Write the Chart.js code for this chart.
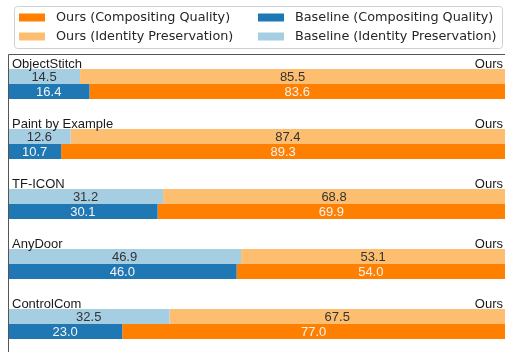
<!DOCTYPE html>
<html>
<head>
<meta charset="utf-8">
<script src="https://cdn.jsdelivr.net/npm/chart.js@4.4.1/dist/chart.umd.min.js"></script>
<style>
  html, body { margin: 0; padding: 0; background: #fff; overflow: hidden; }
  canvas { display: block; }
</style>
</head>
<body>
<canvas id="chart" width="505" height="354"></canvas>
<script>
// Methods compared in the user study
const methods = ['ObjectStitch', 'Paint by Example', 'TF-ICON', 'AnyDoor', 'ControlCom'];

// Preference shares (%) for identity preservation
const baselineIdentity = [14.5, 12.6, 31.2, 46.9, 32.5];
const oursIdentity = [85.5, 87.4, 68.8, 53.1, 67.5];

// Preference shares (%) for compositing quality
const baselineComposite = [16.4, 10.7, 30.1, 46.0, 23.0];
const oursComposite = [83.6, 89.3, 69.9, 54.0, 77.0];

const oursLabel = 'Ours';

const COLORS = {
  oursComp: '#ff7f00',
  oursId: '#fdbf6f',
  baseComp: '#1f78b4',
  baseId: '#a6cee3'
};

const LABEL_FONT = '13px "Liberation Sans", Arial, sans-serif';
const LEGEND_FONT = '12.8px "DejaVu Sans", sans-serif';

// Legend laid out in two columns (Ours | Baseline)
const legendItems = [
  { text: 'Ours (Compositing Quality)', color: COLORS.oursComp, col: 0, row: 0 },
  { text: 'Ours (Identity Preservation)', color: COLORS.oursId, col: 0, row: 1 },
  { text: 'Baseline (Compositing Quality)', color: COLORS.baseComp, col: 1, row: 0 },
  { text: 'Baseline (Identity Preservation)', color: COLORS.baseId, col: 1, row: 1 }
];

function roundRect(ctx, x, y, w, h, r) {
  ctx.beginPath();
  ctx.moveTo(x + r, y);
  ctx.lineTo(x + w - r, y);
  ctx.quadraticCurveTo(x + w, y, x + w, y + r);
  ctx.lineTo(x + w, y + h - r);
  ctx.quadraticCurveTo(x + w, y + h, x + w - r, y + h);
  ctx.lineTo(x + r, y + h);
  ctx.quadraticCurveTo(x, y + h, x, y + h - r);
  ctx.lineTo(x, y + r);
  ctx.quadraticCurveTo(x, y, x + r, y);
  ctx.closePath();
}

const annotate = {
  id: 'annotate',
  afterDatasetsDraw(chart) {
    const ctx = chart.ctx;
    const area = chart.chartArea;
    ctx.save();

    // value labels centred in each segment
    ctx.font = LABEL_FONT;
    ctx.textAlign = 'center';
    ctx.textBaseline = 'middle';
    chart.data.datasets.forEach((ds, di) => {
      const meta = chart.getDatasetMeta(di);
      meta.data.forEach((bar, i) => {
        const cx = (bar.x + bar.base) / 2;
        ctx.fillStyle = ds.labelColor;
        ctx.fillText(ds.data[i].toFixed(1), cx, bar.y + 0.5);
      });
    });

    // method name (left) and "Ours" (right) above each pair of bars
    const topMeta = chart.getDatasetMeta(0);
    topMeta.data.forEach((bar, i) => {
      const top = bar.y - bar.height / 2;
      ctx.fillStyle = '#1a1a1a';
      ctx.textBaseline = 'alphabetic';
      ctx.textAlign = 'left';
      ctx.fillText(methods[i], area.left + 4, top - 1);
      ctx.textAlign = 'right';
      ctx.fillText(oursLabel, 503, top - 1);
    });

    // axes frame (top and left)
    ctx.strokeStyle = '#555';
    ctx.lineWidth = 1;
    ctx.beginPath();
    ctx.moveTo(area.left + 0.5, chart.height);
    ctx.lineTo(area.left + 0.5, area.top + 0.5);
    ctx.lineTo(chart.width, area.top + 0.5);
    ctx.stroke();

    // legend
    ctx.fillStyle = '#fff';
    roundRect(ctx, 14.5, 6.5, 488, 42, 3);
    ctx.fill();
    ctx.strokeStyle = '#d0d0d0';
    ctx.stroke();
    ctx.font = LEGEND_FONT;
    ctx.textAlign = 'left';
    ctx.textBaseline = 'middle';
    const colX = [19, 258];
    const rowY = [17.5, 36.5];
    legendItems.forEach(item => {
      const x = colX[item.col];
      const y = rowY[item.row];
      ctx.fillStyle = item.color;
      ctx.fillRect(x, y - 4, 26, 8);
      ctx.fillStyle = '#262626';
      ctx.fillText(item.text, x + 37, y + 0.5);
    });

    ctx.restore();
  }
};

new Chart(document.getElementById('chart'), {
  type: 'bar',
  data: {
    labels: methods,
    datasets: [
      { label: 'Baseline (Identity Preservation)', data: baselineIdentity, backgroundColor: COLORS.baseId, stack: 'identity', labelColor: '#333' },
      { label: 'Ours (Identity Preservation)', data: oursIdentity, backgroundColor: COLORS.oursId, stack: 'identity', labelColor: '#333' },
      { label: 'Baseline (Compositing Quality)', data: baselineComposite, backgroundColor: COLORS.baseComp, stack: 'composite', labelColor: '#f4f4f4' },
      { label: 'Ours (Compositing Quality)', data: oursComposite, backgroundColor: COLORS.oursComp, stack: 'composite', labelColor: '#f4f4f4' }
    ]
  },
  options: {
    indexAxis: 'y',
    responsive: false,
    animation: false,
    devicePixelRatio: 1,
    datasets: { bar: { categoryPercentage: 0.5, barPercentage: 1.0, borderWidth: 0, borderSkipped: false } },
    layout: { padding: { left: 8, top: 54, right: 0, bottom: 0 } },
    scales: {
      x: { display: false, stacked: true, min: 0, max: 100 },
      y: { display: false, stacked: true }
    },
    plugins: { legend: { display: false }, tooltip: { enabled: false } }
  },
  plugins: [annotate]
});
</script>
</body>
</html>
